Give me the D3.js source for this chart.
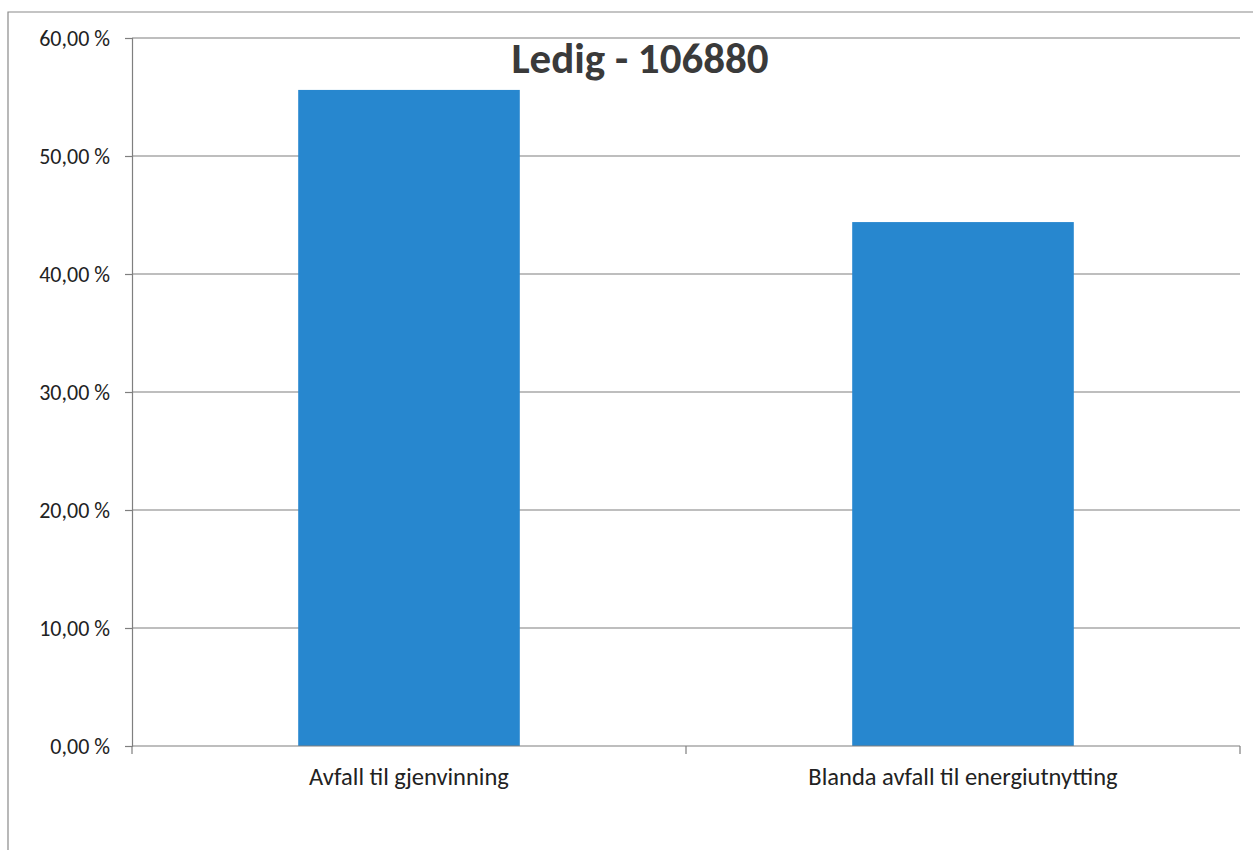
<!DOCTYPE html>
<html>
<head>
<meta charset="utf-8">
<script src="https://cdn.jsdelivr.net/npm/d3@7"></script>
<style>
  body { margin: 0; background: #fff; }
  svg { display: block; font-family: Carlito, Lato, "Open Sans", sans-serif; }
</style>
</head>
<body>
<div id="chart"></div>
<script>
const categories = ["Avfall til gjenvinning", "Blanda avfall til energiutnytting"];
const values = [55.6, 44.4];
const yTicks = [0, 10, 20, 30, 40, 50, 60];
const title = "Ledig - 106880";

const width = 1253, height = 850;
const margin = { top: 38, right: 13, bottom: 104, left: 132 };
const fontFamily = "Carlito, Lato, 'Open Sans', sans-serif";

const svg = d3.select("#chart").append("svg")
  .attr("width", width)
  .attr("height", height);

// outer frame (top and left edges only visible in the scan)
svg.append("path")
  .attr("d", `M8,${height} L8,12 L${width},12`)
  .attr("fill", "none")
  .attr("stroke", "#8a8a8a")
  .attr("stroke-width", 1.2);

const x = d3.scaleBand()
  .domain(categories)
  .range([margin.left, width - margin.right])
  .paddingInner(0.6)
  .paddingOuter(0.3);

const y = d3.scaleLinear()
  .domain([0, 60])
  .range([height - margin.bottom, margin.top]);

const fmt = v => d3.format(".2f")(v).replace(".", ",") + " %";

// grid lines
svg.append("g")
  .selectAll("line")
  .data(yTicks.filter(d => d > 0))
  .join("line")
  .attr("x1", margin.left)
  .attr("x2", width - margin.right)
  .attr("y1", d => y(d))
  .attr("y2", d => y(d))
  .attr("stroke", "#7f7f7f")
  .attr("stroke-width", 1.2);

// y axis
const yAxis = svg.append("g")
  .attr("transform", `translate(${margin.left},0)`)
  .call(d3.axisLeft(y).tickValues(yTicks).tickFormat(fmt).tickSize(7).tickPadding(15))
  .attr("font-family", fontFamily)
  .attr("font-size", 22);
yAxis.select(".domain").attr("stroke", "#7f7f7f").attr("stroke-width", 1.2);
yAxis.selectAll(".tick line").attr("stroke", "#7f7f7f").attr("stroke-width", 1.2);
yAxis.selectAll("text").attr("fill", "#222");

// bars
svg.append("g")
  .selectAll("rect")
  .data(values)
  .join("rect")
  .attr("x", (d, i) => x(categories[i]))
  .attr("width", x.bandwidth())
  .attr("y", d => y(d))
  .attr("height", d => y(0) - y(d))
  .attr("fill", "#2787cf");

// x axis
const y0 = y(0);
svg.append("line")
  .attr("x1", margin.left).attr("x2", width - margin.right)
  .attr("y1", y0).attr("y2", y0)
  .attr("stroke", "#7f7f7f").attr("stroke-width", 1.2);

const step = (width - margin.right - margin.left) / categories.length;
const xTicks = d3.range(categories.length + 1).map(i => margin.left + i * step);
svg.append("g")
  .selectAll("line")
  .data(xTicks)
  .join("line")
  .attr("x1", d => d).attr("x2", d => d)
  .attr("y1", y0).attr("y2", y0 + 8)
  .attr("stroke", "#7f7f7f").attr("stroke-width", 1.2);

svg.append("g")
  .selectAll("text")
  .data(categories)
  .join("text")
  .attr("x", (d, i) => margin.left + (i + 0.5) * step)
  .attr("y", y0 + 39)
  .attr("text-anchor", "middle")
  .attr("font-size", 24.5)
  .attr("fill", "#222")
  .text(d => d);

// title
svg.append("text")
  .attr("x", 640)
  .attr("y", 73)
  .attr("text-anchor", "middle")
  .attr("font-size", 43)
  .attr("font-weight", "bold")
  .attr("fill", "#3a3a3a")
  .text(title);
</script>
</body>
</html>
